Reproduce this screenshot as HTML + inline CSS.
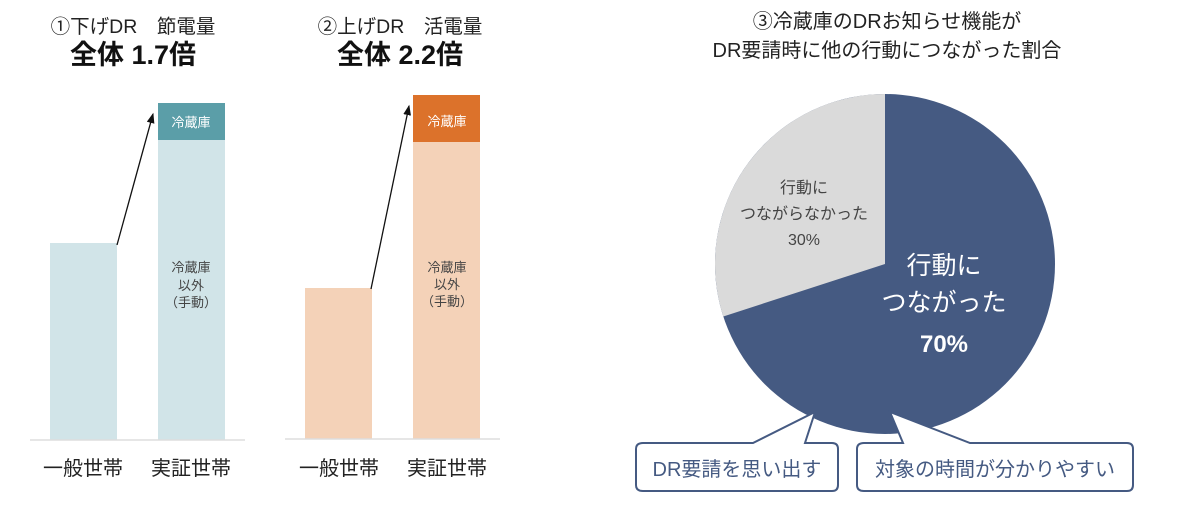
<!DOCTYPE html>
<html><head><meta charset="utf-8"><style>
body{margin:0;width:1180px;height:510px;background:#fff;overflow:hidden;font-family:"Liberation Sans","Noto Sans CJK JP",sans-serif;}
</style></head><body>
<svg width="1180" height="510" xmlns="http://www.w3.org/2000/svg" font-family="Liberation Sans, Noto Sans CJK JP, sans-serif">
<defs><marker id="ah" markerWidth="8" markerHeight="8" refX="7" refY="4" orient="auto"><path d="M0,1 L8,4 L0,7 z" fill="#111"/></marker></defs>
<!-- left chart -->
<text x="133" y="33" font-size="19.5" text-anchor="middle" fill="#222">①下げDR　節電量</text>
<text x="133" y="64" font-size="27" font-weight="bold" text-anchor="middle" fill="#111">全体 1.7倍</text>
<rect x="50" y="243" width="67" height="197" fill="#d1e4e8"/>
<rect x="158" y="140" width="67" height="300" fill="#d1e4e8"/>
<rect x="158" y="103" width="67" height="37" fill="#5b9ea8"/>
<line x1="30" y1="440" x2="245" y2="440" stroke="#ddd" stroke-width="1.5"/>
<line x1="117" y1="245" x2="153" y2="114" stroke="#111" stroke-width="1.3" marker-end="url(#ah)"/>
<text x="191" y="127" font-size="13" text-anchor="middle" fill="#fff">冷蔵庫</text>
<text x="191" y="272" font-size="13" text-anchor="middle" fill="#444">冷蔵庫</text>
<text x="191" y="290" font-size="13" text-anchor="middle" fill="#444">以外</text>
<text x="191" y="307" font-size="13" text-anchor="middle" fill="#444">（手動）</text>
<text x="83" y="475" font-size="20" text-anchor="middle" fill="#222">一般世帯</text>
<text x="191" y="475" font-size="20" text-anchor="middle" fill="#222">実証世帯</text>
<!-- right chart -->
<text x="400" y="33" font-size="19.5" text-anchor="middle" fill="#222">②上げDR　活電量</text>
<text x="400" y="64" font-size="27" font-weight="bold" text-anchor="middle" fill="#111">全体 2.2倍</text>
<rect x="305" y="288" width="67" height="151" fill="#f4d2b8"/>
<rect x="413" y="142" width="67" height="297" fill="#f4d2b8"/>
<rect x="413" y="95" width="67" height="47" fill="#dc722b"/>
<line x1="285" y1="439" x2="500" y2="439" stroke="#ddd" stroke-width="1.5"/>
<line x1="371" y1="289" x2="409" y2="106" stroke="#111" stroke-width="1.3" marker-end="url(#ah)"/>
<text x="447" y="126" font-size="13" text-anchor="middle" fill="#fff">冷蔵庫</text>
<text x="447" y="272" font-size="13" text-anchor="middle" fill="#444">冷蔵庫</text>
<text x="447" y="289" font-size="13" text-anchor="middle" fill="#444">以外</text>
<text x="447" y="306" font-size="13" text-anchor="middle" fill="#444">（手動）</text>
<text x="339" y="475" font-size="20" text-anchor="middle" fill="#222">一般世帯</text>
<text x="447" y="475" font-size="20" text-anchor="middle" fill="#222">実証世帯</text>
<!-- pie -->
<text x="887" y="28" font-size="20" text-anchor="middle" fill="#222">③冷蔵庫のDRお知らせ機能が</text>
<text x="887" y="57" font-size="20" text-anchor="middle" fill="#222">DR要請時に他の行動につながった割合</text>
<circle cx="885" cy="264" r="170" fill="#455a82"/>
<path d="M885,264 L885,94 A170,170 0 0 0 723.3,316.5 Z" fill="#dadada"/>
<text x="804" y="193" font-size="16" text-anchor="middle" fill="#444">行動に</text>
<text x="804" y="219" font-size="16" text-anchor="middle" fill="#444">つながらなかった</text>
<text x="804" y="245" font-size="16" text-anchor="middle" fill="#444">30%</text>
<text x="944" y="274" font-size="25" text-anchor="middle" fill="#fff">行動に</text>
<text x="944" y="311" font-size="25" text-anchor="middle" fill="#fff">つながった</text>
<text x="944" y="352" font-size="24" font-weight="bold" text-anchor="middle" fill="#fff">70%</text>
<!-- callouts -->
<path d="M643,443 L753,443 L815,412 L805,443 L832,443 Q838,443 838,449 L838,485 Q838,491 832,491 L643,491 Q636,491 636,485 L636,449 Q636,443 643,443 Z" fill="#fff" stroke="#455a82" stroke-width="2"/>
<text x="737" y="476" font-size="20" text-anchor="middle" fill="#455a82">DR要請を思い出す</text>
<path d="M864,443 L903,443 L890,412 L970,443 L1127,443 Q1133,443 1133,449 L1133,485 Q1133,491 1127,491 L864,491 Q857,491 857,485 L857,449 Q857,443 864,443 Z" fill="#fff" stroke="#455a82" stroke-width="2"/>
<text x="995" y="476" font-size="20" text-anchor="middle" fill="#455a82">対象の時間が分かりやすい</text>
</svg>
</body></html>
